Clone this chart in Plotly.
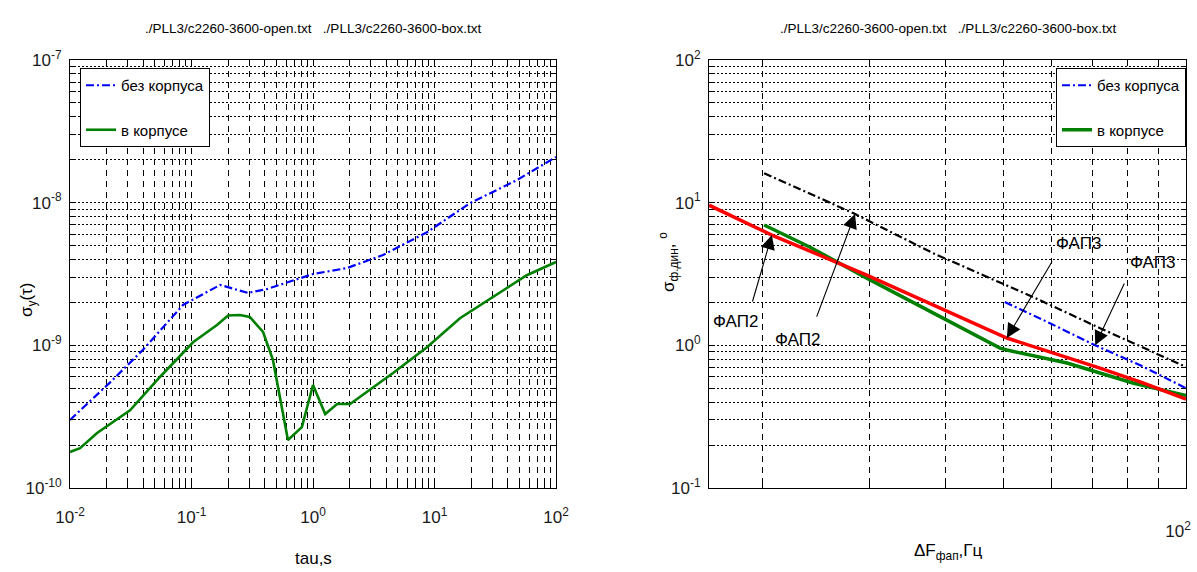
import numpy as np
import plotly.graph_objects as go

# ---- Allan deviation vs averaging time (left panel) ----
tau_open = [0.01, 0.0214, 0.0399, 0.0851, 0.172, 0.292, 0.417, 1.0, 1.9, 3.77, 8.67, 19.6, 47.7, 100]
sig_open = [3.0e-10, 5.5e-10, 9.3e-10, 1.92e-9, 2.65e-9, 2.33e-9, 2.48e-9, 3.16e-9, 3.48e-9,
            4.3e-9, 6.2e-9, 9.93e-9, 1.44e-8, 2.09e-8]

tau_box = [0.01, 0.0121, 0.0167, 0.0312, 0.055, 0.103, 0.162, 0.2, 0.25, 0.302, 0.388, 0.468,
           0.622, 0.81, 1.0, 1.26, 1.58, 2.02, 4.56, 8.67, 16.2, 30.3, 57.5, 100]
sig_box = [1.79e-10, 1.9e-10, 2.43e-10, 3.5e-10, 6.0e-10, 1.05e-9, 1.39e-9, 1.62e-9, 1.63e-9,
           1.58e-9, 1.24e-9, 7.9e-10, 2.17e-10, 2.67e-10, 5.27e-10, 3.3e-10, 3.88e-10, 3.88e-10,
           6.4e-10, 9.7e-10, 1.55e-9, 2.18e-9, 3.1e-9, 3.84e-9]

# ---- dynamic phase error vs loop bandwidth (right panel) ----
f_red = [16.3, 20.7, 29.7, 38.2, 50.6, 72.1, 84.9, 100]
s_red = [9.6, 5.93, 3.11, 1.92, 1.125, 0.693, 0.545, 0.42]

f_green = [20.1, 23.9, 29.7, 38.2, 49.3, 50.6, 63.6, 81.7, 100]
s_green = [6.97, 4.89, 2.96, 1.68, 0.957, 0.927, 0.752, 0.545, 0.445]

f_blue = [50.2, 59.6, 70.8, 84.9, 100]
s_blue = [2.01, 1.43, 1.0, 0.71, 0.50]

f_black = [20.1, 28.2, 38.2, 55.9, 72.1, 100]
s_black = [16.1, 8.45, 4.43, 2.18, 1.32, 0.705]

# callouts: (label, curve, arrow-tip frequency, tail (f, sigma), text (f, sigma))
callouts = [
    ("ФАП2", "red", 20.7, (19.2, 1.98), (18.0, 1.46)),
    ("ФАП2", "black", 28.4, (24.5, 1.55), (22.8, 1.09)),
    ("ФАП3", "red", 50.6, (60.3, 3.96), (66.5, 5.21)),
    ("ФАП3", "blue", 70.8, (79.3, 2.78), (88.0, 3.83)),
]

title_txt = "./PLL3/c2260-3600-open.txt   ./PLL3/c2260-3600-box.txt"
FONT = "Liberation Sans, Arial, sans-serif"

W, H = 1197, 572
L1, R1 = 70, 556
L2, R2 = 709, 1186
TOP, BOT = 60, 488


def px(x):
    return x / W


def py(y):
    return 1 - y / H


def decade_ticks(lo, hi):
    vals, txt = [], []
    for e in range(lo, hi + 1):
        for m in range(1, 10):
            if e == hi and m > 1:
                break
            vals.append(m * 10.0 ** e)
            txt.append(f"10<sup>{e}</sup>" if m == 1 else "")
    return vals, txt


fig = go.Figure()

green = "#008000"
dashdot = "8px,3px,2px,3px"
fig.add_trace(go.Scatter(x=tau_open, y=sig_open, mode="lines", name="без корпуса",
                         line=dict(color="#0000ff", width=2.2, dash=dashdot),
                         xaxis="x", yaxis="y", legend="legend", legendgroup="a"))
fig.add_trace(go.Scatter(x=tau_box, y=sig_box, mode="lines", name="в корпусе",
                         line=dict(color=green, width=2.6),
                         xaxis="x", yaxis="y", legend="legend", legendgroup="b"))

fig.add_trace(go.Scatter(x=f_black, y=s_black, mode="lines", showlegend=False,
                         line=dict(color="black", width=2.2, dash=dashdot),
                         xaxis="x2", yaxis="y2"))
fig.add_trace(go.Scatter(x=f_blue, y=s_blue, mode="lines", name="без корпуса",
                         line=dict(color="#0000ff", width=2.2, dash=dashdot),
                         xaxis="x2", yaxis="y2", legend="legend2", legendgroup="c"))
fig.add_trace(go.Scatter(x=f_green, y=s_green, mode="lines", name="в корпусе",
                         line=dict(color=green, width=3.5),
                         xaxis="x2", yaxis="y2", legend="legend2", legendgroup="d"))
fig.add_trace(go.Scatter(x=f_red, y=s_red, mode="lines", showlegend=False,
                         line=dict(color="#ff0000", width=3.5),
                         xaxis="x2", yaxis="y2"))

common = dict(type="log", showline=True, linecolor="black", linewidth=1, mirror="ticks",
              ticks="inside", ticklen=4, tickcolor="black", showgrid=True,
              gridcolor="black", zeroline=False, automargin=False,
              ticklabeloverflow="allow",
              tickfont=dict(family=FONT, size=17, color="#1a1a1a"))

xv1, xt1 = decade_ticks(-2, 2)
yv1, yt1 = decade_ticks(-10, -7)
yv2, yt2 = decade_ticks(-1, 2)
xv2 = [20, 30, 40, 50, 60, 70, 80, 90, 100]
xt2 = [""] * 8 + ["10<sup>2</sup>"]

legend_style = dict(yanchor="top", bgcolor="white", bordercolor="black", borderwidth=1,
                    tracegroupgap=22, font=dict(family=FONT, size=15, color="black"))

fig.update_layout(
    width=W, height=H, margin=dict(l=0, r=0, t=0, b=0, autoexpand=False),
    plot_bgcolor="white", paper_bgcolor="white",
    font=dict(family=FONT, size=15, color="black"),
    xaxis=dict(common, domain=[px(L1), px(R1)], anchor="y", range=[-2, 2],
               tickvals=xv1, ticktext=xt1, griddash="6px,5px", gridwidth=1,
               ticklabelstandoff=14),
    yaxis=dict(common, domain=[py(BOT), py(TOP)], anchor="x", range=[-10, -7],
               tickvals=yv1, ticktext=yt1, griddash="2px,2px", gridwidth=1.4,
               ticklabelstandoff=4),
    xaxis2=dict(common, domain=[px(L2), px(R2)], anchor="y2",
                range=[np.log10(16.3), 2], tickvals=xv2, ticktext=xt2,
                griddash="6px,5px", gridwidth=1, ticklabelstandoff=28,
                ticklabelshift=-8),
    yaxis2=dict(common, domain=[py(BOT), py(TOP)], anchor="x2", range=[-1, 2],
                tickvals=yv2, ticktext=yt2, griddash="2px,2px", gridwidth=1.4,
                ticklabelstandoff=4),
    legend=dict(legend_style, x=px(80), y=py(68), xanchor="left"),
    legend2=dict(legend_style, x=px(1186), y=py(68), xanchor="right"),
)

ann = []
for cx in ((L1 + R1) / 2, (L2 + R2) / 2):
    ann.append(dict(text=title_txt, x=px(cx), y=py(28), xref="paper", yref="paper",
                    xanchor="center", yanchor="middle", showarrow=False,
                    font=dict(family=FONT, size=13.5, color="black")))
ann.append(dict(text="tau,s", x=px(313), y=py(558), xref="paper", yref="paper",
                xanchor="center", yanchor="middle", showarrow=False,
                font=dict(family=FONT, size=17)))
ann.append(dict(text="ΔF<sub>фап</sub>,Гц", x=px(948), y=py(552), xref="paper", yref="paper",
                xanchor="center", yanchor="middle", showarrow=False,
                font=dict(family=FONT, size=17)))
ann.append(dict(text="σ<sub>y</sub>(τ)", x=px(28), y=py(300), xref="paper", yref="paper",
                xanchor="center", yanchor="middle", showarrow=False, textangle=-90,
                font=dict(family=FONT, size=17)))
ann.append(dict(text="σ<sub>ф.дин</sub>, <sup>o</sup>", x=px(668), y=py(262), xref="paper",
                yref="paper", xanchor="center", yanchor="middle", showarrow=False,
                textangle=-90, font=dict(family=FONT, size=17)))

curves = {"red": (f_red, s_red), "black": (f_black, s_black), "blue": (f_blue, s_blue)}
for label, key, ftip, tail, pos in callouts:
    fx, sy = curves[key]
    ytip = np.interp(np.log10(ftip), np.log10(fx), np.log10(sy))
    ann.append(dict(text="", x=np.log10(ftip), y=ytip, xref="x2", yref="y2",
                    ax=np.log10(tail[0]), ay=np.log10(tail[1]), axref="x2", ayref="y2",
                    showarrow=True, arrowhead=2, arrowsize=2.6, arrowwidth=1.1,
                    arrowcolor="black"))
    ann.append(dict(text=label, x=np.log10(pos[0]), y=np.log10(pos[1]), xref="x2", yref="y2",
                    xanchor="center", yanchor="middle", showarrow=False,
                    font=dict(family=FONT, size=17, color="black")))

fig.update_layout(annotations=ann)
fig.write_html("out.html")
